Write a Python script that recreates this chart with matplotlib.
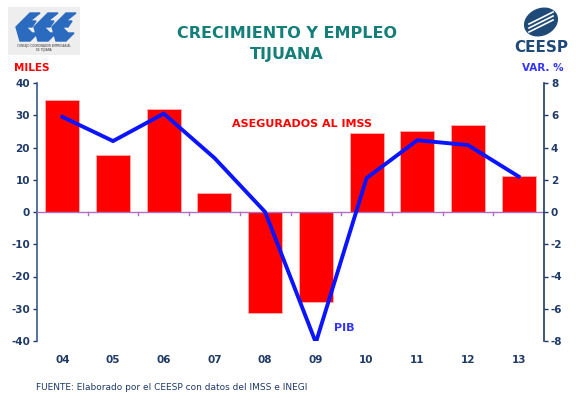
import matplotlib
matplotlib.use("Agg")
import matplotlib.pyplot as plt
from matplotlib.patches import Ellipse, Rectangle, Polygon
import numpy as np

categories = ["04", "05", "06", "07", "08", "09", "10", "11", "12", "13"]
asegurados = [34.7, 17.6, 31.9, 5.9, -31.4, -27.9, 24.6, 25.1, 27.0, 11.2]
pib = [5.9, 4.4, 6.1, 3.35, 0.0, -8.1, 2.1, 4.45, 4.15, 2.2]
left_ticks = [40, 30, 20, 10, 0, -10, -20, -30, -40]
right_ticks = [8, 6, 4, 2, 0, -2, -4, -6, -8]

navy = "#1f3a66"
fig = plt.figure(figsize=(5.76, 4.0), dpi=100)
ax = fig.add_axes([37/576, 1-341/400, (544-37)/576, (341-83)/400])
x = np.arange(len(categories))
ax.bar(x, asegurados, width=0.67, color="#ff0000", edgecolor="#ffb0b0", linewidth=0.6, zorder=2)
ax.set_xlim(-0.5, len(categories)-0.5)
ax.set_ylim(-40, 40)
ax.set_yticks(left_ticks)
ax.set_yticklabels([str(t) for t in left_ticks], fontsize=7.5, fontweight="bold", color=navy)
ax.set_xticks(x)
ax.set_xticklabels(categories, fontsize=7.5, fontweight="bold", color=navy)
ax.tick_params(axis="x", length=0, pad=10)
ax.tick_params(axis="y", color=navy, length=3, width=1, pad=2)
for s in ["top", "bottom", "right"]:
    ax.spines[s].set_visible(False)
ax.spines["left"].set_color("#3a5a8a")
ax.spines["left"].set_linewidth(1.2)
ax.axhline(0, color="#b070c0", lw=1.0, zorder=3)
for b in np.arange(0.5, len(categories)-0.5, 1.0):
    ax.plot([b, b], [0, -1.0], color="#b070c0", lw=1.0, zorder=3, clip_on=False)

ax2 = ax.twinx()
ax2.plot(x, pib, color="#0a14ff", lw=2.8, zorder=4, solid_joinstyle="miter")
ax2.set_ylim(-8, 8)
ax2.set_yticks(right_ticks)
ax2.set_yticklabels([str(t) for t in right_ticks], fontsize=7.5, fontweight="bold", color=navy)
ax2.tick_params(axis="y", color=navy, length=3, width=1, pad=2)
for s in ["top", "bottom", "left"]:
    ax2.spines[s].set_visible(False)
ax2.spines["right"].set_color("#1f3a66")
ax2.spines["right"].set_linewidth(1.2)

ax.text((302-37)/50.7-0.5, 27.3, "ASEGURADOS AL IMSS", color="#ff0000", fontsize=8, fontweight="bold",
        ha="center", va="center", zorder=5)
ax2.text((344-37)/50.7-0.5, -7.2, "PIB", color="#3333ff", fontsize=8, fontweight="bold",
         ha="center", va="center", zorder=5)

fig.text(287/576, 1-33/400, "CRECIMIENTO Y EMPLEO", color="#147f78", fontsize=11.5,
         fontweight="bold", ha="center", va="center")
fig.text(287/576, 1-55/400, "TIJUANA", color="#147f78", fontsize=11.5,
         fontweight="bold", ha="center", va="center")
fig.text(32/576, 1-68/400, "MILES", color="#ff0000", fontsize=7.5, fontweight="bold",
         ha="center", va="center")
fig.text(543/576, 1-68/400, "VAR. %", color="#3333ff", fontsize=7.5, fontweight="bold",
         ha="center", va="center")
fig.text(36/576, 1-388/400, "FUENTE: Elaborado por el CEESP con datos del IMSS e INEGI",
         color=navy, fontsize=6.5, ha="left", va="center")

# CCE logo (approximation)
lax = fig.add_axes([8/576, 1-55/400, 72/576, 48/400])
lax.set_xlim(0, 72); lax.set_ylim(0, 48); lax.axis("off")
lax.add_patch(Rectangle((0, 0), 72, 48, color="#eeeeee"))
for i in range(3):
    ox = 8 + i*18
    lax.add_patch(Polygon([(ox, 28), (ox+14, 42), (ox+24, 42), (ox+14, 34), (ox+20, 34),
                           (ox+16, 28), (ox+10, 28), (ox+16, 22), (ox+22, 22), (ox+14, 14),
                           (ox+4, 14)], closed=True, color="#2b6bbf"))
lax.text(36, 7, "CONSEJO COORDINADOR EMPRESARIAL\nDE TIJUANA", fontsize=2, ha="center",
         va="center", color="#333333")

# CEESP logo (approximation)
cax = fig.add_axes([505/576, 1-58/400, 70/576, 56/400])
cax.set_xlim(0, 70); cax.set_ylim(0, 56); cax.axis("off")
cax.add_patch(Ellipse((36, 36), 34, 26, angle=25, color="#1f4a78"))
for dy in (-4, 0, 4):
    cax.plot([24, 48], [30+dy, 42+dy], color="white", lw=1.2)
cax.text(36, 11, "CEESP", fontsize=11, fontweight="bold", color="#1f4a78", ha="center", va="center")

fig.savefig("out.png", dpi=100, facecolor="white")
